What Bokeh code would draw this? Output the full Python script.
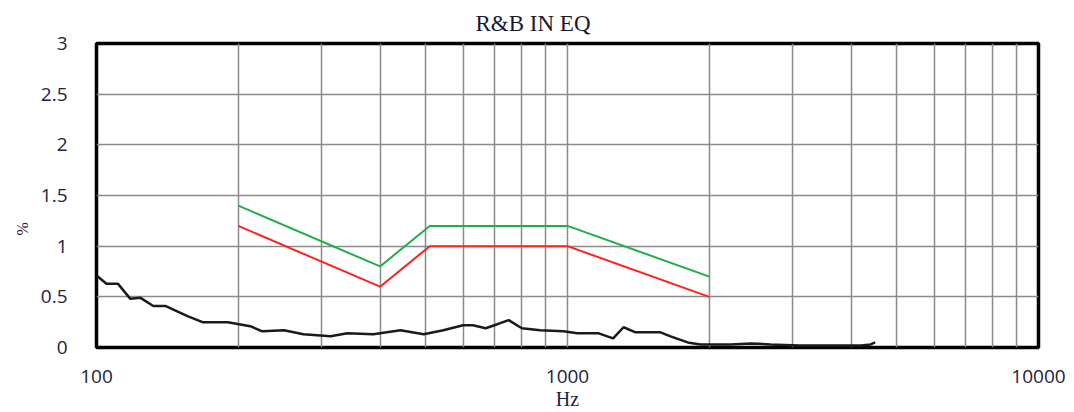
from bokeh.plotting import figure
from bokeh.models import Range1d, FixedTicker, CustomJSTickFormatter, Title
from bokeh.embed import file_html
from bokeh.resources import INLINE

# limit curves
limit_freq = [200, 400, 510, 1000, 2000]
upper_limit = [1.4, 0.8, 1.2, 1.2, 0.7]
lower_limit = [1.2, 0.6, 1.0, 1.0, 0.5]

# measured THD curve
meas_freq = [100, 105, 111, 118, 124, 132, 140, 156, 168, 190, 212, 225, 250, 275,
             314, 341, 387, 442, 495, 545, 600, 630, 670, 710, 750, 800, 875, 980,
             1050, 1165, 1250, 1315, 1395, 1575, 1655, 1800, 1915, 2220, 2450, 2700,
             3100, 3600, 4200, 4400, 4500]
meas_thd = [0.71, 0.63, 0.63, 0.48, 0.49, 0.41, 0.41, 0.31, 0.25, 0.25, 0.21, 0.16,
            0.17, 0.13, 0.11, 0.14, 0.13, 0.17, 0.13, 0.17, 0.22, 0.22, 0.19, 0.23,
            0.27, 0.19, 0.17, 0.16, 0.14, 0.14, 0.09, 0.20, 0.15, 0.15, 0.11, 0.05,
            0.03, 0.03, 0.04, 0.03, 0.02, 0.02, 0.02, 0.03, 0.05]

x_major = [100, 1000, 10000]
x_minor = [200, 300, 400, 500, 600, 700, 800, 900,
           2000, 3000, 4000, 5000, 6000, 7000, 8000, 9000]
y_ticks = [0, 0.5, 1, 1.5, 2, 2.5, 3]

p = figure(width=1074, height=412, x_axis_type="log",
           x_range=Range1d(100, 10000), y_range=Range1d(0, 3),
           output_backend="svg", toolbar_location=None,
           min_border_left=96, min_border_right=36,
           min_border_top=42, min_border_bottom=65)

p.background_fill_color = "white"
p.border_fill_color = "white"
p.outline_line_color = "black"
p.outline_line_width = 3.5

# title
p.title.text = "R&B IN EQ"
p.title.align = "left"
p.title.offset = 379
p.title.standoff = 16
p.title.text_font = "Liberation Serif"
p.title.text_font_size = "23px"
p.title.text_font_style = "normal"
p.title.text_color = "#1a1a2a"

label_color = "#22223a"

p.xaxis.ticker = FixedTicker(ticks=x_major, minor_ticks=x_minor)
p.yaxis.ticker = FixedTicker(ticks=y_ticks)
p.xaxis.formatter = CustomJSTickFormatter(code="return tick.toString();")
p.yaxis.formatter = CustomJSTickFormatter(code="return tick.toString();")

for ax in (p.xaxis[0], p.yaxis[0]):
    ax.axis_line_color = None
    ax.major_tick_line_color = None
    ax.minor_tick_line_color = None
    ax.major_label_text_font = "Open Sans"
    ax.major_label_text_font_size = "19px"
    ax.major_label_text_color = label_color

p.xaxis.major_label_standoff = 16
p.yaxis.major_label_standoff = 23

# y-axis unit label, placed a little below the frame's middle as in the reference
ylab = Title(text="%", align="left", offset=112, standoff=14,
             text_font="Liberation Serif", text_font_size="16px",
             text_font_style="normal", text_color=label_color)
p.add_layout(ylab, "left")

p.xaxis.axis_label = "Hz"
p.xaxis.axis_label_text_font = "Liberation Serif"
p.xaxis.axis_label_text_font_size = "20px"
p.xaxis.axis_label_text_font_style = "normal"
p.xaxis.axis_label_standoff = 2
p.xaxis.axis_label_text_color = label_color

grid_color = "#8a8a8a"
p.xgrid.grid_line_color = grid_color
p.xgrid.grid_line_width = 1.5
p.xgrid.minor_grid_line_color = grid_color
p.xgrid.minor_grid_line_width = 1.5
p.ygrid.grid_line_color = grid_color
p.ygrid.grid_line_width = 1.5

p.line(limit_freq, upper_limit, line_color="#1fae4a", line_width=2)
p.line(limit_freq, lower_limit, line_color="#ff2020", line_width=2)
p.line(meas_freq, meas_thd, line_color="#1a1a1a", line_width=2.5)

open("out.html", "w").write(file_html(p, INLINE))
